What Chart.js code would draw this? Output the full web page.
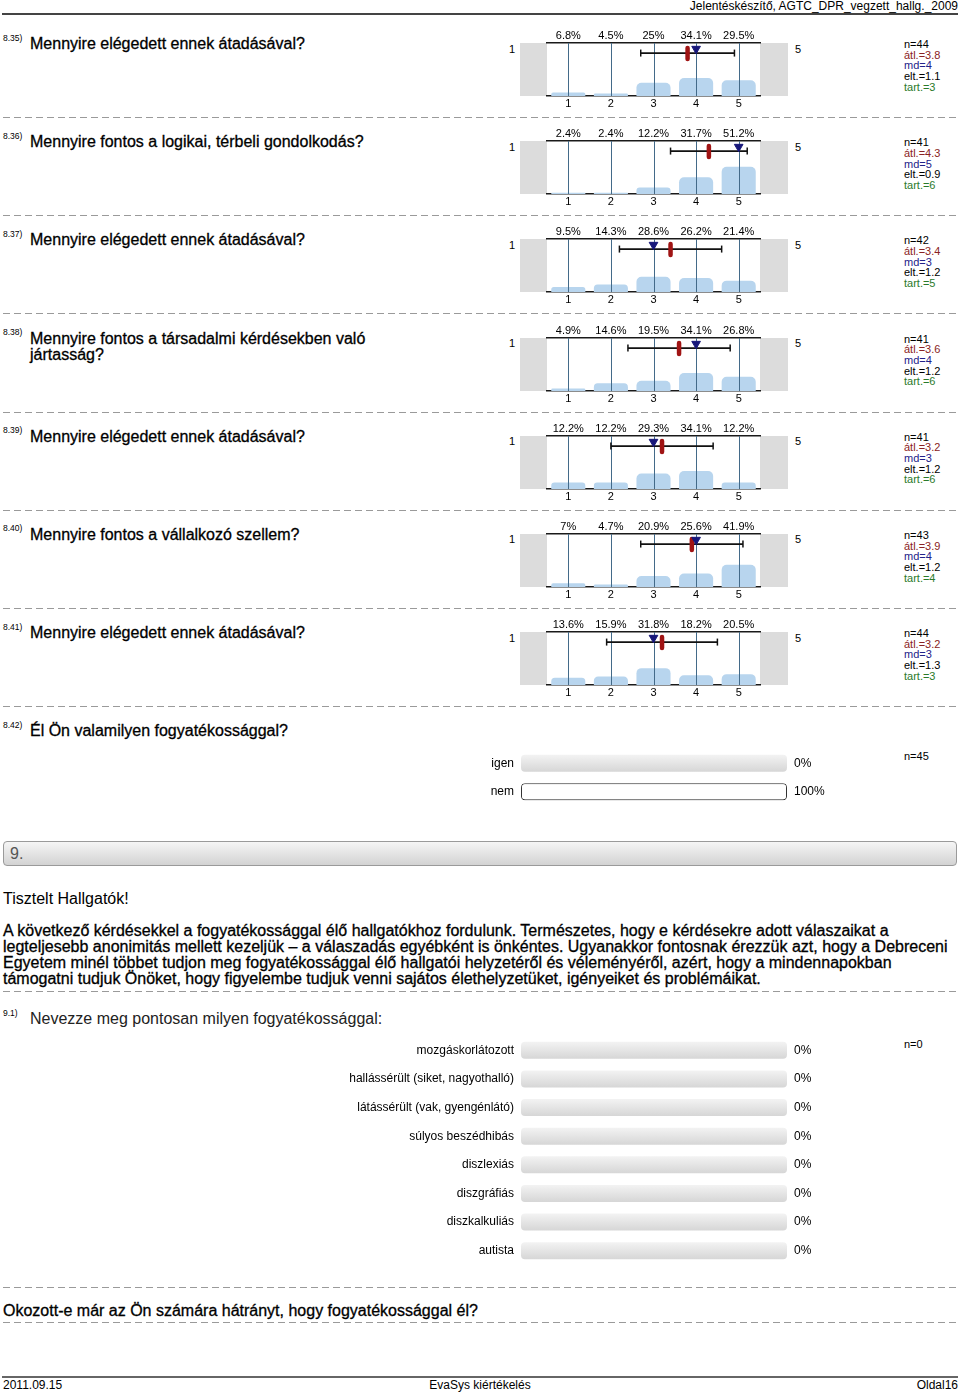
<!DOCTYPE html>
<html>
<head>
<meta charset="utf-8">
<script src="https://cdn.jsdelivr.net/npm/chart.js@4.4.1/dist/chart.umd.min.js"></script>
<style>
  body { margin: 0; width: 960px; height: 1395px; position: relative; background: #fff; overflow: hidden;
         font-family: "Liberation Sans", Arial, sans-serif; color: #000; }
  .abs { position: absolute; white-space: nowrap; }
  .dash { position: absolute; left: 3px; width: 955px; height: 1px;
          background: repeating-linear-gradient(to right, #9a9a9a 0 7px, transparent 7px 11px); }
  .qno { font-size: 8.5px; line-height: 9px; }
  .qtitle { font-size: 16px; line-height: 16px; -webkit-text-stroke: 0.3px #000; }
  .plain { font-size: 16px; line-height: 16px; }
  .stats { font-size: 11px; line-height: 10.7px; }
  .pole { font-size: 11px; line-height: 11px; }
  .box { position: absolute; }
</style>
</head>
<body>
<script>
// --- data ---
const questionIds = ['8.35)', '8.36)', '8.37)', '8.38)', '8.39)', '8.40)', '8.41)'];
const questionTitles = [
  'Mennyire elégedett ennek átadásával?',
  'Mennyire fontos a logikai, térbeli gondolkodás?',
  'Mennyire elégedett ennek átadásával?',
  'Mennyire fontos a társadalmi kérdésekben való<br>jártasság?',
  'Mennyire elégedett ennek átadásával?',
  'Mennyire fontos a vállalkozó szellem?',
  'Mennyire elégedett ennek átadásával?'
];
const scaleLabels = ['1', '2', '3', '4', '5'];
const poleLeft = '1';
const poleRight = '5';
const answerPercents = [
  [6.8, 4.5, 25, 34.1, 29.5],
  [2.4, 2.4, 12.2, 31.7, 51.2],
  [9.5, 14.3, 28.6, 26.2, 21.4],
  [4.9, 14.6, 19.5, 34.1, 26.8],
  [12.2, 12.2, 29.3, 34.1, 12.2],
  [7, 4.7, 20.9, 25.6, 41.9],
  [13.6, 15.9, 31.8, 18.2, 20.5]
];
const nValues = [44, 41, 42, 41, 41, 43, 44];
const meanValues = [3.8, 4.3, 3.4, 3.6, 3.2, 3.9, 3.2];
const medianValues = [4, 5, 3, 4, 3, 4, 3];
const sdValues = [1.1, 0.9, 1.2, 1.2, 1.2, 1.2, 1.3];
const abstValues = [3, 6, 5, 6, 6, 4, 3];

const yesNoLabels = ['igen', 'nem'];
const yesNoPercents = [0, 100];
const yesNoN = 45;

const disabilityLabels = ['mozgáskorlátozott', 'hallássérült (siket, nagyothalló)', 'látássérült (vak, gyengénlátó)',
  'súlyos beszédhibás', 'diszlexiás', 'diszgráfiás', 'diszkalkuliás', 'autista'];
const disabilityPercents = [0, 0, 0, 0, 0, 0, 0, 0];
const disabilityN = 0;

Chart.defaults.font.family = '"Liberation Sans", Arial, sans-serif';
Chart.defaults.color = '#000';

function addEl(cls, left, top, html, extra) {
  const d = document.createElement('div');
  d.className = cls;
  d.style.left = left + 'px';
  d.style.top = top + 'px';
  if (extra) Object.assign(d.style, extra);
  d.innerHTML = html;
  document.body.appendChild(d);
  return d;
}
function addDash(top) { addEl('dash', 3, top, ''); }
function addCanvas(left, top, w, h) {
  const box = addEl('box', left, top, '', { width: w + 'px', height: h + 'px' });
  const c = document.createElement('canvas');
  box.appendChild(c);
  return c;
}
// keep tick labels from shrinking the plot area
function noLabelPadding(s) {
  s.paddingTop = 0; s.paddingBottom = 0; s.paddingLeft = 0; s.paddingRight = 0;
}

// grey side fields + white plot area
const sideShade = {
  id: 'sideShade',
  beforeDraw(chart) {
    const { ctx, chartArea: a, width } = chart;
    ctx.save();
    ctx.fillStyle = '#dcdcdc';
    ctx.fillRect(0, a.top, width, a.bottom - a.top);
    ctx.fillStyle = '#fff';
    ctx.fillRect(a.left, a.top, a.right - a.left, a.bottom - a.top);
    ctx.restore();
  }
};
// vertical scale lines over the bars, round caps for the mean marker
const scaleLines = {
  id: 'scaleLines',
  beforeDatasetDraw(chart, args) {
    if (args.index === 2) chart.ctx.lineCap = 'round';
  },
  afterDatasetDraw(chart, args) {
    if (args.index === 2) chart.ctx.lineCap = 'butt';
    if (args.index !== 0) return;
    const x = chart.scales.x, a = chart.chartArea, ctx = chart.ctx;
    ctx.save();
    ctx.strokeStyle = '#436a89';
    ctx.lineWidth = 1;
    x.ticks.forEach((t, i) => {
      const px = Math.round(x.getPixelForTick(i)) + 0.5;
      ctx.beginPath();
      ctx.moveTo(px, a.top);
      ctx.lineTo(px, a.bottom);
      ctx.stroke();
    });
    ctx.restore();
  }
};
// rounded grey tracks behind the choice bars
const tracks = {
  id: 'tracks',
  beforeDatasetsDraw(chart) {
    const { ctx } = chart, x = chart.scales.x, y = chart.scales.y;
    const x0 = x.getPixelForValue(0), x1 = x.getPixelForValue(100);
    ctx.save();
    y.ticks.forEach((t, i) => {
      const c = y.getPixelForTick(i), h = 17;
      const g = ctx.createLinearGradient(0, c - h / 2, 0, c + h / 2);
      g.addColorStop(0, '#f3f3f3');
      g.addColorStop(1, '#d6d6d6');
      ctx.fillStyle = g;
      ctx.beginPath();
      ctx.roundRect(x0, c - h / 2, x1 - x0, h, 4);
      ctx.fill();
    });
    ctx.restore();
  }
};

function likertChart(canvas, i) {
  const mean = meanValues[i], sd = sdValues[i];
  const axisBorder = { display: true, color: '#1a1a1a', width: 1.5 };
  return new Chart(canvas, {
    type: 'bar',
    data: {
      labels: scaleLabels,
      datasets: [
        { data: answerPercents[i], backgroundColor: '#b8d5ee', borderRadius: { topLeft: 5, topRight: 5 },
          borderSkipped: 'bottom', grouped: false, categoryPercentage: 0.8, barPercentage: 1, order: 4 },
        { type: 'line', xAxisID: 'xv', data: [{ x: mean - sd, y: 81 }, { x: mean + sd, y: 81 }],
          borderColor: '#111', borderWidth: 1.7, pointStyle: 'line', pointRotation: 90, pointRadius: 3.5,
          pointBorderWidth: 1.5, pointBorderColor: '#111', order: 3 },
        { type: 'scatter', xAxisID: 'xv', data: [{ x: mean, y: 80 }], pointStyle: 'line', pointRotation: 90,
          pointRadius: 5.5, pointBorderWidth: 4.5, pointBorderColor: '#a01414', order: 2 },
        { type: 'scatter', xAxisID: 'xv', data: [{ x: medianValues[i], y: 89 }], pointStyle: 'triangle',
          pointRotation: 180, pointRadius: 5, pointBackgroundColor: '#17177a', pointBorderColor: '#17177a',
          pointBorderWidth: 1, order: 1 }
      ]
    },
    options: {
      responsive: true, maintainAspectRatio: false, animation: false,
      layout: { padding: { left: 27, right: 28, top: 0, bottom: 0 } },
      plugins: { legend: { display: false }, tooltip: { enabled: false } },
      scales: {
        x: { position: 'bottom', offset: true, grid: { display: false, drawTicks: false }, border: axisBorder,
             ticks: { font: { size: 11 }, padding: 1, maxRotation: 0, autoSkip: false },
             afterFit: s => { s.height = 15; noLabelPadding(s); } },
        xTop: { type: 'category', position: 'top', labels: answerPercents[i].map(v => v + '%'), offset: true,
                grid: { display: false, drawTicks: false }, border: axisBorder,
                ticks: { font: { size: 11 }, padding: 0, maxRotation: 0, autoSkip: false },
                afterFit: s => { s.height = 17; noLabelPadding(s); } },
        xv: { type: 'linear', min: 0.5, max: 5.5, offset: false, display: false, grid: { offset: false } },
        y: { min: 0, max: 100, display: false }
      }
    },
    plugins: [sideShade, scaleLines]
  });
}

function choiceChart(canvas, labels, percents) {
  return new Chart(canvas, {
    type: 'bar',
    data: {
      labels: labels,
      datasets: [{
        data: percents, backgroundColor: '#fff', borderColor: '#333',
        borderWidth: c => (percents[c.dataIndex] > 0 ? 1 : 0),
        borderRadius: 4, borderSkipped: false, grouped: false, barPercentage: 0.6, categoryPercentage: 1
      }]
    },
    options: {
      indexAxis: 'y', responsive: true, maintainAspectRatio: false, animation: false,
      layout: { padding: 0 },
      plugins: { legend: { display: false }, tooltip: { enabled: false } },
      scales: {
        x: { min: 0, max: 100, display: false },
        y: { position: 'left', grid: { display: false, drawTicks: false }, border: { display: false },
             ticks: { font: { size: 12 }, padding: 7, autoSkip: false },
             afterFit: s => { s.width = 221; noLabelPadding(s); } },
        y2: { type: 'category', position: 'right', labels: percents.map(v => v + '%'), offset: true,
              grid: { display: false, drawTicks: false }, border: { display: false },
              ticks: { font: { size: 12 }, padding: 7, autoSkip: false },
              afterFit: s => { s.width = 43; noLabelPadding(s); } }
      }
    },
    plugins: [tracks]
  });
}

// --- page header ---
addEl('abs', 0, -1, 'Jelentéskészítő, AGTC_DPR_vegzett_hallg._2009',
  { right: '2px', left: 'auto', fontSize: '12px', lineHeight: '14px' });
addEl('box', 2, 13, '', { width: '956px', height: '2px', background: '#444' });

// --- likert blocks ---
questionIds.forEach((id, i) => {
  const T = 44 + i * 98.17;
  addEl('abs qno', 3, T - 10.5, id);
  addEl('abs qtitle', 30, T - 8, questionTitles[i]);
  addEl('abs pole', 509, T - 0.5, poleLeft);
  addEl('abs pole', 795, T - 0.5, poleRight);
  addEl('abs stats', 904, T - 5,
    'n=' + nValues[i] + '<br><span style="color:#8a2323">átl.=' + meanValues[i] + '</span><br>' +
    '<span style="color:#22228a">md=' + medianValues[i] + '</span><br>elt.=' + sdValues[i] + '<br>' +
    '<span style="color:#2a7a2a">tart.=' + abstValues[i] + '</span>');
  likertChart(addCanvas(520, Math.round(T - 18), 268, 85), i);
  addDash(Math.round(T + 73));
});

// --- 8.42 ---
addEl('abs qno', 3, 731 - 10.5, '8.42)');
addEl('abs qtitle', 30, 731 - 8, 'Él Ön valamilyen fogyatékossággal?');
addEl('abs stats', 904, 751, 'n=' + yesNoN);
choiceChart(addCanvas(300, 749, 530, 57), yesNoLabels, yesNoPercents);

// --- section 9 ---
addEl('box', 3, 841, '<span style="position:absolute;left:6px;top:4px;font-size:16px;line-height:16px;color:#555">9.</span>',
  { width: '952px', height: '23px', border: '1px solid #9a9a9a', borderRadius: '4px',
    background: 'linear-gradient(#f5f5f5, #d3d3d3)' });
addEl('abs plain', 3, 891, 'Tisztelt Hallgatók!');
addEl('abs qtitle', 3, 923,
  'A következő kérdésekkel a fogyatékossággal élő hallgatókhoz fordulunk. Természetes, hogy e kérdésekre adott válaszaikat a<br>' +
  'legteljesebb anonimitás mellett kezeljük – a válaszadás egyébként is önkéntes. Ugyanakkor fontosnak érezzük azt, hogy a Debreceni<br>' +
  'Egyetem minél többet tudjon meg fogyatékossággal élő hallgatói helyzetéről és véleményéről, azért, hogy a mindennapokban<br>' +
  'támogatni tudjuk Önöket, hogy figyelembe tudjuk venni sajátos élethelyzetüket, igényeiket és problémáikat.');
addDash(991);

addEl('abs qno', 3, 1008.5, '9.1)');
addEl('abs plain', 30, 1011, 'Nevezze meg pontosan milyen fogyatékossággal:', { color: '#222' });
addEl('abs stats', 904, 1039, 'n=' + disabilityN);
choiceChart(addCanvas(300, 1036, 530, 229), disabilityLabels, disabilityPercents);

addDash(1287);
addEl('abs qtitle', 3, 1303, 'Okozott-e már az Ön számára hátrányt, hogy fogyatékossággal él?');
addDash(1322);

// --- footer ---
addEl('box', 2, 1376, '', { width: '956px', height: '2px', background: '#666' });
addEl('abs', 3, 1378, '2011.09.15', { fontSize: '12px', lineHeight: '14px' });
addEl('abs', 0, 1378, 'EvaSys kiértékelés', { width: '960px', textAlign: 'center', fontSize: '12px', lineHeight: '14px' });
addEl('abs', 0, 1378, 'Oldal16', { right: '2px', left: 'auto', fontSize: '12px', lineHeight: '14px' });
</script>
</body>
</html>
